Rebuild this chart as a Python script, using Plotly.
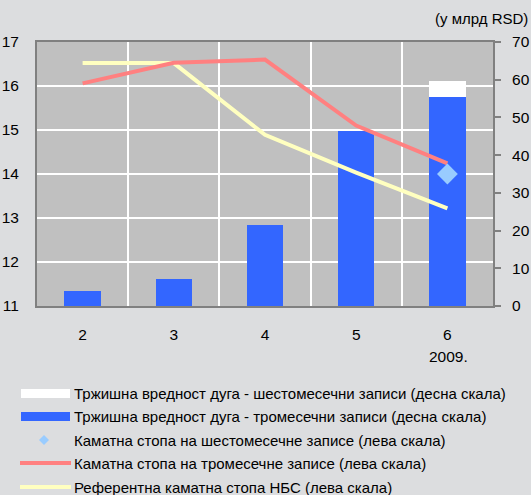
import plotly.graph_objects as go

# Months of 2009 and the series
months = ["2", "3", "4", "5", "6"]
year_label = "2009."

# Market value of debt, billion RSD (right scale)
value_3m = [4.1, 7.2, 21.5, 46.4, 55.3]
value_6m = [None, None, None, None, 4.4]

# Interest rates, % (left scale)
rate_6m = [None, None, None, None, 14.0]
rate_3m = [16.06, 16.53, 16.6, 15.1, 14.24]
ref_rate = [16.52, 16.52, 14.89, 14.03, 13.22]

legend_labels = [
    "Тржишна вредност дуга - шестомесечни записи (десна скала)",
    "Тржишна вредност дуга - тромесечни записи (десна скала)",
    "Каматна стопа на шестомесечне записе (лева скала)",
    "Каматна стопа на тромесечне записе (лева скала)",
    "Референтна каматна стопа НБС (лева скала)",
]

BLUE = "#3366FF"
WHITE = "#FFFFFF"
DIAMOND = "#99CCFF"
RED = "#FF8080"
YELLOW = "#FFFFC0"
BG = "#DCDDDF"
PLOT_BG = "#C0C0C0"
FRAME = "#808080"
FONT = "Liberation Sans, Arial, sans-serif"
FS_TICK = 15.5
FS_TEXT = 15

fig = go.Figure()

# Bars on the primary (right-hand) axis so the rate lines sit above them
fig.add_trace(go.Bar(x=months, y=value_3m, marker=dict(color=BLUE, line=dict(width=0)),
                     width=0.4, yaxis="y", showlegend=False))
fig.add_trace(go.Bar(x=months, y=value_6m, marker=dict(color=WHITE, line=dict(width=0)),
                     width=0.4, yaxis="y", showlegend=False))

fig.add_trace(go.Scatter(x=months, y=ref_rate, mode="lines", line=dict(color=YELLOW, width=4),
                         yaxis="y2", showlegend=False))
fig.add_trace(go.Scatter(x=months, y=rate_3m, mode="lines", line=dict(color=RED, width=4),
                         yaxis="y2", showlegend=False))
fig.add_trace(go.Scatter(x=months, y=rate_6m, mode="markers",
                         marker=dict(symbol="diamond", size=16, color=DIAMOND, line=dict(width=0)),
                         yaxis="y2", showlegend=False))

# Hand-drawn legend below the chart
L, R, T, B = 37, 38, 42, 189
W, H = 531, 495
pw, ph = W - L - R, H - T - B


def px(x):
    return (x - L) / pw


def py(y):
    return (H - B - y) / ph


rows = [393, 416, 440, 463, 487]
shapes = []
shapes.append(dict(type="rect", xref="paper", yref="paper", x0=px(21), x1=px(70),
                   y0=py(389), y1=py(398), fillcolor=WHITE, line=dict(width=0)))
shapes.append(dict(type="rect", xref="paper", yref="paper", x0=px(21), x1=px(70),
                   y0=py(412), y1=py(421), fillcolor=BLUE, line=dict(width=0)))
shapes.append(dict(type="path", xref="paper", yref="paper",
                   path=f"M {px(44)},{py(435)} L {px(49)},{py(440)} L {px(44)},{py(445)} L {px(39)},{py(440)} Z",
                   fillcolor=DIAMOND, line=dict(width=0)))
shapes.append(dict(type="line", xref="paper", yref="paper", x0=px(20), x1=px(71),
                   y0=py(463), y1=py(463), line=dict(color=RED, width=4)))
shapes.append(dict(type="line", xref="paper", yref="paper", x0=px(20), x1=px(71),
                   y0=py(487), y1=py(487), line=dict(color=YELLOW, width=4)))

annotations = []
for yy, txt in zip(rows, legend_labels):
    annotations.append(dict(text=txt, xref="paper", yref="paper", x=px(72), y=py(yy),
                            xanchor="left", yanchor="middle", showarrow=False,
                            font=dict(family=FONT, size=FS_TEXT, color="#000000")))

annotations.append(dict(text="(у млрд RSD)", xref="paper", yref="paper", x=px(530), y=py(18),
                        xanchor="right", yanchor="middle", showarrow=False,
                        font=dict(family=FONT, size=FS_TEXT, color="#000000")))
annotations.append(dict(text=year_label, xref="paper", yref="paper", x=px(448), y=py(356),
                        xanchor="center", yanchor="middle", showarrow=False,
                        font=dict(family=FONT, size=FS_TICK, color="#000000")))

fig.update_layout(
    width=W, height=H,
    margin=dict(l=L, r=R, t=T, b=B, pad=0),
    paper_bgcolor=BG, plot_bgcolor=PLOT_BG,
    barmode="stack", bargap=0.6,
    font=dict(family=FONT, size=FS_TICK, color="#000000"),
    showlegend=False,
    shapes=shapes, annotations=annotations,
    xaxis=dict(type="category", categoryorder="array", categoryarray=months,
               range=[-0.5, 4.5], tickson="boundaries", ticks="", showgrid=True,
               gridcolor="#FFFFFF", gridwidth=2, showline=True, linecolor=FRAME,
               linewidth=2, mirror=True, ticklabelstandoff=13, zeroline=False,
               automargin=False),
    yaxis=dict(side="right", range=[0, 70], dtick=10, showgrid=False, zeroline=False,
               ticks="outside", ticklen=6, tickcolor=FRAME, tickwidth=2,
               showline=True, linecolor=FRAME, linewidth=2, ticklabelstandoff=8,
               automargin=False),
    yaxis2=dict(overlaying="y", side="left", range=[11, 17], dtick=1, showgrid=True,
                gridcolor="#FFFFFF", gridwidth=2, zeroline=False, ticks="",
                showline=True, linecolor=FRAME, linewidth=2, ticklabelstandoff=13,
                automargin=False),
)

fig.write_html("out.html")
